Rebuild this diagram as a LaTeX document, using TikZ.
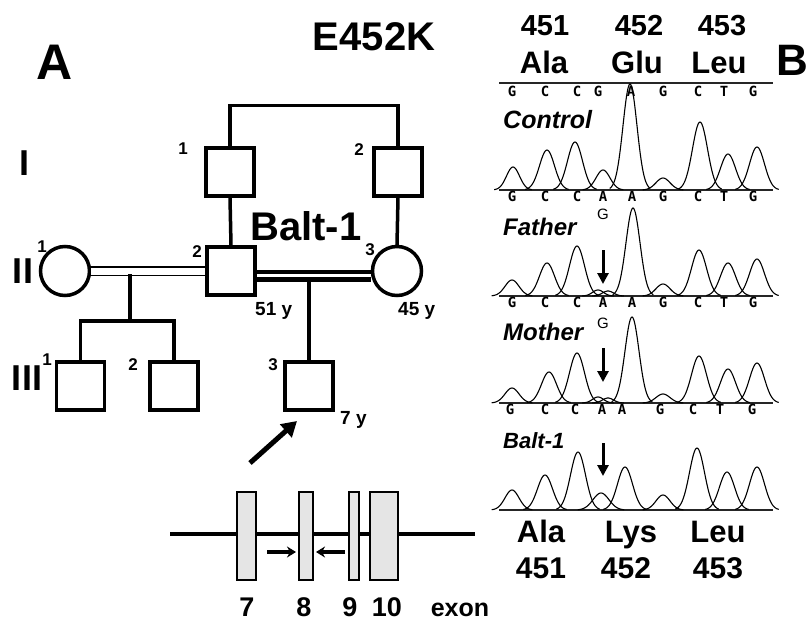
\documentclass[tikz,border=0pt]{standalone}
\usepackage{fontspec}
\setmainfont{Liberation Sans}
\newfontfamily\seqfont{DejaVu Sans Mono}
\usetikzlibrary{arrows.meta}
\newcommand\peakdraw[4]{%
  \pgfmathsetmacro\peaklo{#1-2.9*#4}%
  \pgfmathsetmacro\peakhi{#1+2.9*#4}%
  \draw[trace] plot[domain=\peaklo:\peakhi, samples=45, smooth]
    (\x, {#2-(#2-#3)*exp(-((\x-#1)*(\x-#1))/(2*#4*#4))});%
}
\begin{document}
\begin{tikzpicture}[x=1pt,y=-1pt,
  fs/.style={font=\fontsize{#1}{#1}\selectfont\bfseries, inner sep=0pt, anchor=base},
  fsi/.style={font=\fontsize{#1}{#1}\selectfont\bfseries\itshape, inner sep=0pt, anchor=base west},
  ped/.style={line width=3.5pt, line cap=rect},
  sq/.style={draw, line width=3.5pt, minimum size=48pt, inner sep=0pt},
  ci/.style={draw, circle, line width=3.5pt, minimum size=49pt, inner sep=0pt},
  exonbox/.style={draw, line width=1.2pt, fill=black!10},
  trace/.style={line width=1.1pt},
  base/.style={line width=1.6pt, black!85},
  seq/.style={font=\fontsize{14}{14}\selectfont\seqfont\bfseries, inner sep=0pt, anchor=base},
  darr/.style={line width=3pt, -{Triangle[length=11pt,width=11pt]}},
]
\useasboundingbox (0,0) rectangle (807,621);
\fill[white] (0,0) rectangle (807,621);

% ---------------- Panel A: titles
\node[fs=40] (title) at (374,50) {E452K};
\node[fs=50] (labA) at (55,79) {A};
\node[fs=44] (labB) at (792,75) {B};
\node[fs=36] (genI) at (25,175) {I};
\node[fs=36] (genII) at (23,283) {II};
\node[fs=36] (genIII) at (27,390) {III};

% ---------------- pedigree
\node[sq] (I1) at (230,172) {};
\node[sq] (I2) at (398,172) {};
\node[ci] (II1) at (65,271) {};
\node[sq] (II2) at (231,271) {};
\node[ci] (II3) at (397,271) {};
\node[sq] (III1) at (80.5,386) {};
\node[sq] (III2) at (174,386) {};
\node[sq] (III3) at (309,386) {};

\draw[ped] (I1.north) -- ++(0,-41) -| (I2.north);
\draw[ped] (I1.south) -- (II2.north);
\draw[ped] (I2.south) -- (II3.north);

% marriage lines
\draw[line width=10pt] (II1.east) -- (II2.west);
\draw[white, line width=7pt] (II1.east) -- (II2.west);
\coordinate (mr) at (0,275.5);
\draw[line width=12pt] (II2.east |- mr) -- (II3.west |- mr);
\draw[white, line width=2.5pt] (II2.east |- mr) -- (II3.west |- mr);

% descent lines
\coordinate (d1) at (130,276);
\coordinate (sib) at (130,321);
\draw[ped] (d1) -- (sib);
\draw[ped] (III1.north) |- (sib) -| (III2.north);
\coordinate (d2) at (309,281.5);
\draw[ped] (d2) -- (III3.north);

% individual numbers
\node[fs=17] (nI1) at (183,154) {1};
\node[fs=17] (nI2) at (359,155) {2};
\node[fs=17] (nII1) at (42,252) {1};
\node[fs=17] (nII2) at (197,257) {2};
\node[fs=17] (nII3) at (370,255) {3};
\node[fs=17] (nIII1) at (47,365) {1};
\node[fs=17] (nIII2) at (133,370) {2};
\node[fs=17] (nIII3) at (273,370) {3};

\node[fs=40] (balt) at (306,240) {Balt-1};
\node[fs=19, anchor=base west] (age1) at (255,315) {51 y};
\node[fs=19, anchor=base west] (age2) at (398,315) {45 y};
\node[fs=19, anchor=base west] (age3) at (340,424) {7 y};

% proband arrow
\coordinate (pa) at (250,463);
\coordinate (pb) at (297,421);
\draw[line width=5pt, -{Triangle[length=15pt,width=17pt]}] (pa) -- (pb);

% ---------------- gene diagram
\coordinate (g1) at (170,534);
\coordinate (g2) at (475,534);
\draw[line width=3.5pt] (g1) -- (g2);
\draw[exonbox] (237,492) rectangle (256,580);
\draw[exonbox] (299,492) rectangle (313,580);
\draw[exonbox] (349,492) rectangle (359,580);
\draw[exonbox] (370,492) rectangle (398,580);
\coordinate (pf1) at (267,552);
\coordinate (pf2) at (296,552);
\coordinate (pr1) at (345,552);
\coordinate (pr2) at (316,552);
\draw[line width=3.2pt, -{Stealth[length=9pt,width=11pt]}] (pf1) -- (pf2);
\draw[line width=3.2pt, -{Stealth[length=9pt,width=11pt]}] (pr1) -- (pr2);
\node[fs=27] (e7) at (247,616) {7};
\node[fs=27] (e8) at (304,616) {8};
\node[fs=27] (e9) at (350,616) {9};
\node[fs=27] (e10) at (387,616) {10};
\node[fs=25] (exon) at (460,616) {exon};

% ---------------- Panel B: headers
\node[fs=29] (h451) at (545,35) {451};
\node[fs=29] (h452) at (639,35) {452};
\node[fs=29] (h453) at (722,35) {453};
\node[fs=31] (hAla) at (544,73) {Ala};
\node[fs=31] (hGlu) at (637,73) {Glu};
\node[fs=31] (hLeu) at (719,73) {Leu};

\node[fs=31] (fAla) at (541,542) {Ala};
\node[fs=31] (fLys) at (631,542) {Lys};
\node[fs=31] (fLeu) at (718,542) {Leu};
\node[fs=30] (f451) at (541,578) {451};
\node[fs=30] (f452) at (626,578) {452};
\node[fs=30] (f453) at (718,578) {453};

% baselines
\draw[base] (499,83) -- (773,83);
\draw[base] (499,190) -- (773,190);
\draw[base] (499,296) -- (773,296);
\draw[base] (499,403) -- (773,403);
\draw[base] (499,510) -- (773,510);

% sequence rows
\foreach \xx/\ll [count=\i] in {512/G,545/C,577/C,598/G,631/A,663/G,698/C,724/T,753/G}
  {\node[seq] (sa\i) at (\xx,96) {\ll};}
\foreach \xx/\ll [count=\i] in {512/G,545/C,577/C,603/A,632/A,663/G,698/C,724/T,753/G}
  {\node[seq] (sb\i) at (\xx,201) {\ll};}
\foreach \xx/\ll [count=\i] in {512/G,545/C,577/C,603/A,632/A,663/G,698/C,724/T,753/G}
  {\node[seq] (sc\i) at (\xx,307) {\ll};}
\foreach \xx/\ll [count=\i] in {510/G,545/C,575/C,602/A,622/A,660/G,693/C,720/T,752/G}
  {\node[seq] (sd\i) at (\xx,414) {\ll};}
\node[font=\fontsize{15}{15}\selectfont, inner sep=0pt, anchor=base] (gF) at (603,219) {G};
\node[font=\fontsize{15}{15}\selectfont, inner sep=0pt, anchor=base] (gM) at (603,328) {G};

% trace labels
\node[fsi=25] (lC) at (503,128) {Control};
\node[fsi=24] (lF) at (503,235) {Father};
\node[fsi=24] (lM) at (503,340) {Mother};
\node[fsi=22] (lB) at (503,448) {Balt-1};

% traces
\foreach \px/\py/\s in {513/167/6.5,547/150/7.5,575/142/7.5,603/170/7,630/84/7,663/178/7,700/122/7.5,728/154/7.5,757/147/7.5}
  {\peakdraw{\px}{190}{\py}{\s}}
\foreach \px/\py/\s in {512/280/7,547/263/7.5,577/246/7.5,598/290/5.5,608/291/5.5,633/208/7,663/284/7,699/250/7.5,728/263/7.5,757/259/7.5}
  {\peakdraw{\px}{296}{\py}{\s}}
\foreach \px/\py/\s in {512/388/7,549/372/7.5,577/353/7.5,598/397/5.5,608/398/5.5,632/317/7,663/394/7,699/356/7.5,728/369/7.5,757/363/7.5}
  {\peakdraw{\px}{403}{\py}{\s}}
\foreach \px/\py/\s in {512/490/7,545/475/7.5,578/452/7.5,601/493/8,625/467/7.5,663/495/7,697/448/7.5,727/472/7.5,757/467/7.5}
  {\peakdraw{\px}{510}{\py}{\s}}

% mutation arrows
\coordinate (aF1) at (603,250); \coordinate (aF2) at (603,284);
\coordinate (aM1) at (603,348); \coordinate (aM2) at (603,382);
\coordinate (aB1) at (603,443); \coordinate (aB2) at (603,476);
\draw[darr] (aF1) -- (aF2);
\draw[darr] (aM1) -- (aM2);
\draw[darr] (aB1) -- (aB2);
\end{tikzpicture}
\end{document}
